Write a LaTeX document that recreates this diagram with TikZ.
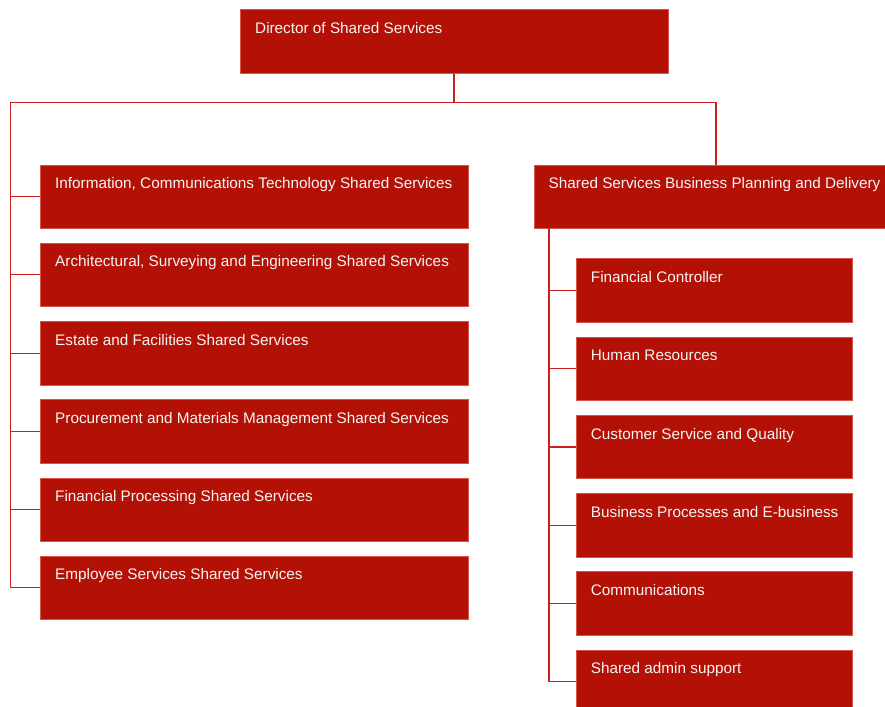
\documentclass[tikz,border=0pt]{standalone}
\usepackage{fontspec}
\setmainfont{Liberation Sans}
\definecolor{boxred}{HTML}{B31105}
\definecolor{edgered}{HTML}{D9534A}
\definecolor{linkred}{HTML}{CC1F1F}
\tikzset{
  orgbox/.style={draw=edgered, line width=0.8pt, fill=boxred, anchor=north west, inner sep=0pt},
  orgtext/.style={anchor=base west, inner sep=0pt, text=white!96!black, font=\fontsize{15.3}{17}\selectfont},
  link/.style={draw=linkred, line width=1.1pt},
}
\newcommand{\unit}[5]{%
  % #1 name, #2 x, #3 y, #4 width, #5 label
  \node[orgbox, minimum width=#4, minimum height=63.5] (#1) at (#2,#3) {};
  \node[orgtext] (#1t) at ([xshift=15pt,yshift=-24.2pt]#1.north west) {#5};
}
\begin{document}
\begin{tikzpicture}[x=1pt,y=-1pt]
\useasboundingbox[fill=white] (0,0) rectangle (885,706);

% director
\unit{dir}{240}{9.5}{427.5}{Director of Shared Services}

% left column of shared services
\unit{ict}{40}{164.5}{428.3}{Information, Communications Technology Shared Services}
\unit{ase}{40}{242.7}{428.3}{Architectural, Surveying and Engineering Shared Services}
\unit{efs}{40}{321}{428.3}{Estate and Facilities Shared Services}
\unit{pmm}{40}{399.2}{428.3}{Procurement and Materials Management Shared Services}
\unit{fps}{40}{477.5}{428.3}{Financial Processing Shared Services}
\unit{ess}{40}{555.7}{428.3}{Employee Services Shared Services}

% right branch
\unit{bpd}{533.5}{164.5}{360}{Shared Services Business Planning and Delivery}
\unit{fc}{575.7}{258.3}{276.6}{Financial Controller}
\unit{hr}{575.7}{336.5}{276.6}{Human Resources}
\unit{csq}{575.7}{414.8}{276.6}{Customer Service and Quality}
\unit{bpe}{575.7}{493}{276.6}{Business Processes and E-business}
\unit{com}{575.7}{571.3}{276.6}{Communications}
\unit{sas}{575.7}{649.5}{276.6}{Shared admin support}

% connectors
\coordinate (split) at (454,102.5);
\coordinate (lcol) at (10.5,102.5);
\coordinate (rcol) at (716,102.5);
\draw[link] (dir.south -| split) -- (split);
\draw[link] (lcol) -- (rcol) -- (bpd.north -| rcol);
\draw[link] (lcol) -- (lcol |- ess.west) -- (ess.west);
\foreach \n in {ict,ase,efs,pmm,fps}
  \draw[link] (lcol |- \n.west) -- (\n.west);
\coordinate (rtop) at (549,228.3);
\draw[link] (rtop) -- (rtop |- sas.west) -- (sas.west);
\foreach \n in {fc,hr,csq,bpe,com}
  \draw[link] (rtop |- \n.west) -- (\n.west);
\end{tikzpicture}
\end{document}
